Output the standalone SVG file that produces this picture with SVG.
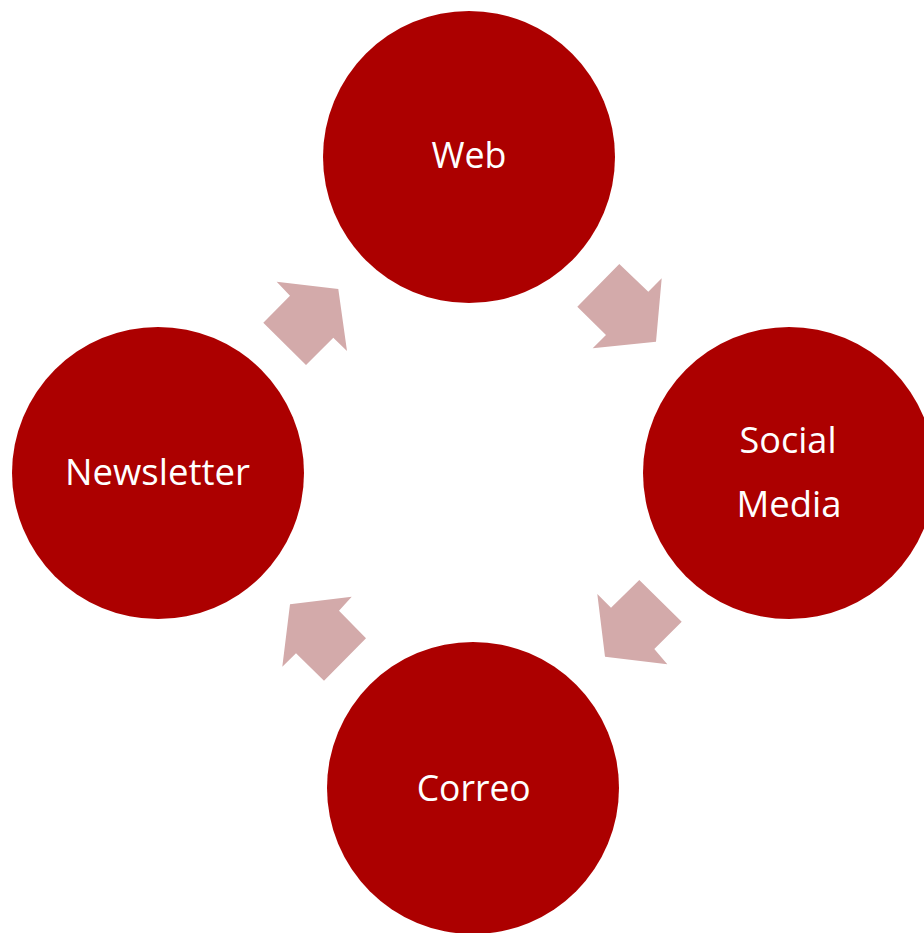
<svg xmlns="http://www.w3.org/2000/svg" width="924" height="933" viewBox="0 0 924 933">
<style>
.node{fill:#AC0000;}
.lbl{fill:#FFFFFF;font-family:"Open Sans","Noto Sans","Liberation Sans",sans-serif;font-size:37px;text-anchor:middle;}
.arr{fill:#D3AAAA;}
</style>
<rect width="924" height="933" fill="#FFFFFF"/>
<g id="connectors">
<polygon class="arr" points="619.3,264 648.3,291.7 661.7,278.3 656,341.7 592.7,348.3 606,335 577.3,306.7"/>
<polygon class="arr" points="639.3,580 681.7,621.7 654.3,649 667.3,664.3 605,656.7 597.3,594 611,607.7"/>
<polygon class="arr" points="351.7,596.7 339,610.7 366,638.3 324,680.7 296,653.3 282.3,666.7 290,604.3"/>
<polygon class="arr" points="276.7,281.7 338.3,289 347,351 333.3,337.7 306,365 263.3,322.7 290,295.7"/>
</g>
<g id="web">
<circle class="node" cx="469" cy="157" r="146"/>
<text class="lbl" x="469" y="168" textLength="75" lengthAdjust="spacingAndGlyphs">Web</text>
</g>
<g id="social">
<circle class="node" cx="789" cy="473" r="146"/>
<text class="lbl" x="788" y="453" textLength="97" lengthAdjust="spacingAndGlyphs">Social</text>
<text class="lbl" x="789" y="517" textLength="105" lengthAdjust="spacingAndGlyphs">Media</text>
</g>
<g id="correo">
<circle class="node" cx="473" cy="788" r="146"/>
<text class="lbl" x="473.7" y="801" textLength="114" lengthAdjust="spacingAndGlyphs">Correo</text>
</g>
<g id="newsletter">
<circle class="node" cx="158" cy="473" r="146"/>
<text class="lbl" x="157.5" y="485" textLength="185" lengthAdjust="spacingAndGlyphs">Newsletter</text>
</g>
</svg>
